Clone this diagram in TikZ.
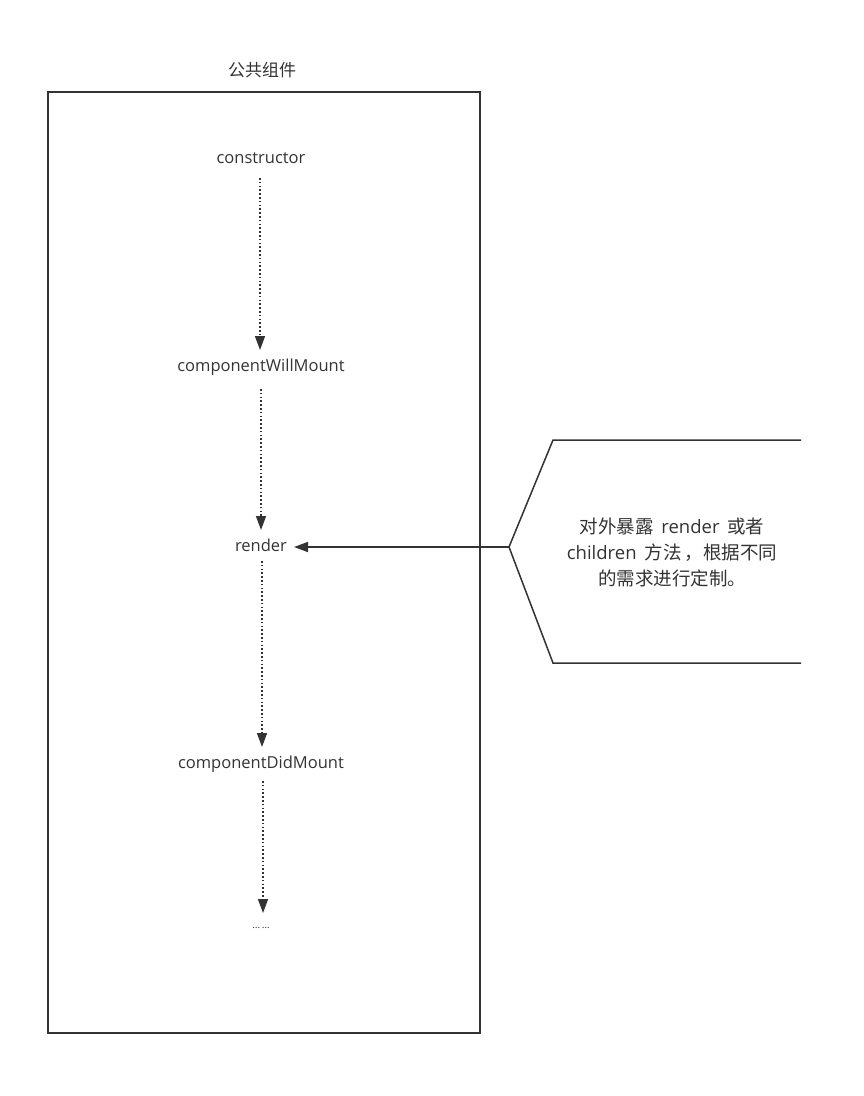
\documentclass[tikz,border=0pt]{standalone}
\usepackage{fontspec}
\setmainfont{Open Sans}
\newfontfamily\cjk{Noto Sans CJK SC}
\usetikzlibrary{arrows.meta}
\definecolor{ink}{HTML}{333333}
\tikzset{
  lbl/.style={text=ink, font=\fontsize{16.5}{20}\selectfont, inner sep=2pt},
  flow/.style={draw=ink, line width=1.5pt, dash pattern=on 1.6pt off 2.2pt,
    -{Triangle[length=14pt,width=10pt]}},
  solidarrow/.style={draw=ink, line width=1.5pt, -{Triangle[length=14pt,width=10pt]}},
  frame/.style={draw=ink, line width=1.5pt},
}
\begin{document}
\begin{tikzpicture}[x=1pt,y=-1pt]
  \useasboundingbox (0,0) rectangle (863,1096);
  % container
  \node[text=ink, font=\cjk\fontsize{17}{20}\selectfont] (title) at (262,70) {公共组件};
  \draw[frame] (48,92) rectangle (480,1033);
  % lifecycle steps
  \node[lbl] (ctor) at (261,158) {constructor};
  \node[lbl] (cwm) at (261,367) {componentWillMount};
  \node[lbl] (render) at (261,545) {render};
  \node[lbl] (cdm) at (261,764) {componentDidMount};
  \node[text=ink, font=\fontsize{10}{12}\selectfont] (more) at (261,928) {…\,…};
  \coordinate (ctorB) at (260,178);
  \coordinate (cwmT) at (260,350);
  \coordinate (cwmB) at (261,389);
  \coordinate (renT) at (261,530);
  \coordinate (renB) at (262,561);
  \coordinate (cdmT) at (262,747);
  \coordinate (cdmB) at (263,781);
  \coordinate (moreT) at (263,913);
  \draw[flow] (ctorB) -- (cwmT);
  \draw[flow] (cwmB) -- (renT);
  \draw[flow] (renB) -- (cdmT);
  \draw[flow] (cdmB) -- (moreT);
  % callout
  \coordinate (tip) at (509,547);
  \draw[frame] (801,440) -- (553,440) -- (tip) -- (553,663) -- (801,663);
  \node[text=ink, font=\fontsize{18.5}{26}\selectfont, align=center] (note) at (672,552)
    {{\cjk 对外暴露}\, render \,{\cjk 或者}\\children\, {\cjk 方法\,，根据不同}\\{\cjk 的需求进行定制。}};
  \coordinate (renR) at (294,547);
  \draw[solidarrow] (tip) -- (renR);
\end{tikzpicture}
\end{document}
